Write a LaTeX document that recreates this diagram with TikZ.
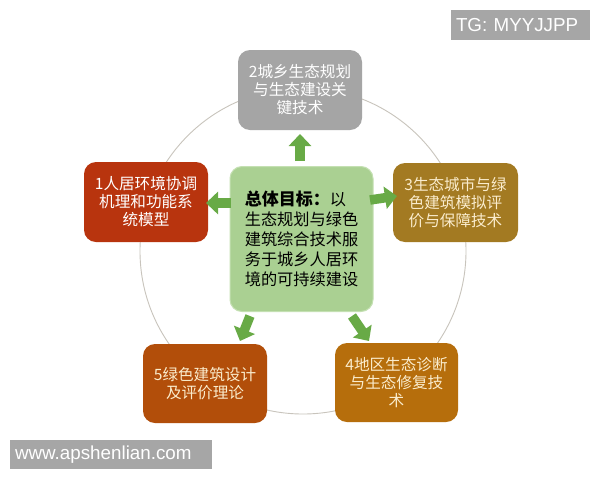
\documentclass[tikz,border=0pt]{standalone}
\usepackage{fontspec}
\newfontfamily\cjk{Noto Sans CJK SC}
\newfontfamily\wm{Liberation Sans}
\usetikzlibrary{arrows.meta}
\definecolor{boxgray}{RGB}{165,165,165}
\definecolor{boxgreen}{RGB}{170,208,146}
\definecolor{boxgreenb}{RGB}{196,224,178}
\definecolor{boxred}{RGB}{184,52,14}
\definecolor{boxolive}{RGB}{163,122,34}
\definecolor{boxbrown}{RGB}{178,78,10}
\definecolor{boxamber}{RGB}{182,110,12}
\definecolor{arrgreen}{RGB}{104,170,70}
\definecolor{circ}{RGB}{200,196,188}
\definecolor{cream}{RGB}{250,236,205}
\definecolor{wmgray}{RGB}{166,166,166}
\begin{document}
\begin{tikzpicture}[x=1pt,y=-1pt,
  box/.style={rounded corners=12pt, align=center, inner sep=0pt,
    font=\cjk\fontsize{15.6}{18}\selectfont},
  blockarrow/.style={draw=arrgreen, line width=9.5pt,
    -{Triangle[width=22pt,length=12pt]}},
  wmbox/.style={fill=wmgray, text=white, inner ysep=0pt, inner xsep=5pt, align=left,
    font=\wm\fontsize{18.8}{20}\selectfont}]
\useasboundingbox (0,0) rectangle (600,480);
\fill[white] (0,0) rectangle (600,480);
% circle
\coordinate (o) at (303,251);
\draw[circ, line width=0.9pt] (o) circle[radius=163pt];
% boxes
\node[box, fill=boxgray, text=white, minimum width=124pt, minimum height=80pt] (b2) at (300,90)
  {2城乡生态规划\\与生态建设关\\键技术};
\node[box, fill=boxgreen, draw=boxgreenb, line width=1pt, minimum width=143pt, minimum height=145pt,
  align=left, font=\cjk\fontsize{16.2}{20}\selectfont] (c) at (301.5,239)
  {{\fontsize{17}{20}\selectfont\bfseries 总体目标：}以\\生态规划与绿色\\建筑综合技术服\\务于城乡人居环\\境的可持续建设};
\node[box, fill=boxred, text=white, minimum width=124pt, minimum height=80pt] (b1) at (146,202)
  {1人居环境协调\\机理和功能系\\统模型};
\node[box, fill=boxolive, text=cream, minimum width=125pt, minimum height=79pt] (b3) at (455.5,202.5)
  {3生态城市与绿\\色建筑模拟评\\价与保障技术};
\node[box, fill=boxbrown, text=cream, minimum width=124pt, minimum height=79pt] (b5) at (205,383.5)
  {5绿色建筑设计\\及评价理论};
\node[box, fill=boxamber, text=cream, minimum width=123pt, minimum height=79pt] (b4) at (396.5,382.5)
  {4地区生态诊断\\与生态修复技\\术};
% arrows
\coordinate (a2s) at (300,161); \coordinate (a2e) at (300,134);
\coordinate (a1s) at (231,203); \coordinate (a1e) at (206,203);
\coordinate (a3s) at (370,200); \coordinate (a3e) at (397,196);
\coordinate (a5s) at (250,316); \coordinate (a5e) at (240,341);
\coordinate (a4s) at (352,316); \coordinate (a4e) at (369,341);
\draw[blockarrow] (a2s) -- (a2e);
\draw[blockarrow] (a1s) -- (a1e);
\draw[blockarrow] (a3s) -- (a3e);
\draw[blockarrow] (a5s) -- (a5e);
\draw[blockarrow] (a4s) -- (a4e);
% watermarks
\node[wmbox, text width=129pt, minimum height=30pt] (tg) at (520.5,25) {TG: MYYJJPP};
\node[wmbox, text width=192pt, minimum height=29pt] (www) at (111,454.5) {www.apshenlian.com};
\end{tikzpicture}
\end{document}
